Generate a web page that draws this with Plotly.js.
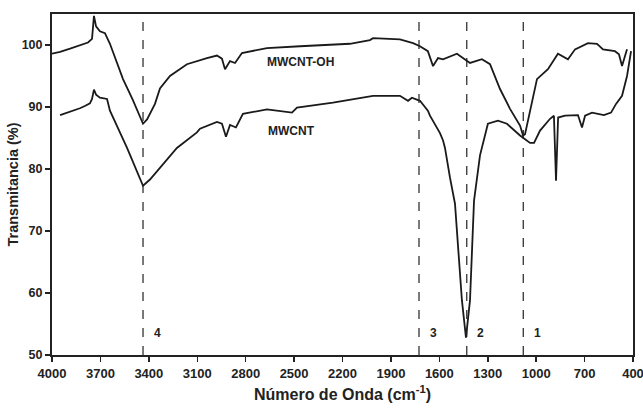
<!DOCTYPE html>
<html>
<head>
<meta charset="utf-8">
<script src="https://cdn.plot.ly/plotly-3.0.1.min.js"></script>
<style>html,body{margin:0;padding:0;background:#fff;}#chart{width:643px;height:409px;}</style>
</head>
<body>
<div id="chart"></div>
<script>
// MWCNT-OH spectrum
const ohWave = [4000,3950,3888,3827,3777,3752,3740,3727,3703,3672,3641,3560,3500,3436,3411,3362,3331,3269,3164,3040,2978,2947,2928,2897,2866,2823,2668,2463,2154,2030,2011,1844,1763,1720,1671,1639,1608,1577,1491,1410,1336,1286,1224,1162,1100,1081,1069,995,927,865,803,759,679,623,586,512,487,468,437];
const ohTrans = [98.6,98.9,99.4,99.9,100.4,101,104.7,103,102.2,101.9,100.2,94.5,91.2,87.3,88,90.5,93,95,96.9,97.9,98.3,97.8,96.1,97.4,97.1,98.7,99.5,99.8,100.2,100.8,101.1,100.9,100.3,99.8,99,96.6,97.9,97.7,98.6,97.1,97.7,96.9,92.9,89.7,87,85.4,85.6,94.5,96.1,98.6,97.7,99.3,100.3,100.2,99.3,99,98.5,96.6,99.3];
// MWCNT spectrum
const cntWave = [3950,3888,3827,3793,3765,3752,3740,3727,3703,3659,3641,3535,3436,3393,3331,3226,3102,3083,2978,2947,2922,2897,2860,2817,2668,2513,2482,2259,2011,1844,1794,1770,1720,1671,1658,1596,1577,1565,1534,1503,1460,1435,1410,1385,1348,1299,1237,1181,1100,1038,1013,976,914,890,877,864,821,741,716,697,654,580,536,505,468,437,412];
const cntTrans = [88.7,89.2,89.8,90.2,90.6,91.3,92.8,92,91.5,91.3,89.4,83.4,77.3,78.3,80.2,83.4,85.9,86.5,87.6,87.3,85.2,87.1,86.7,88.9,89.6,89.1,89.9,90.7,91.8,91.8,91,91.5,91,89.4,88.6,85.8,84.6,83.4,78.6,74.4,58.8,52.8,58.8,74.9,82.2,87.3,87.8,87.3,85.4,84.2,84.2,86.2,88.1,88.6,78.1,88.3,88.6,88.7,86.7,88.6,89.1,88.7,89.1,90.5,91.8,95,99];
// Marked bands
const bandPositions = [3436, 1726, 1430, 1080];
const bandLabels = ['4', '3', '2', '1'];
const bandLabelY = 53.5;
// Series names / labels
const seriesNames = ['MWCNT-OH', 'MWCNT'];
const seriesLabelX = [2463, 2519];
const seriesLabelY = [97.3, 86.2];
const xTicks = [4000,3700,3400,3100,2800,2500,2200,1900,1600,1300,1000,700,400];
const yTicks = [50,60,70,80,90,100];

const lineStyle = {color:'#1a1a1a', width:1.8};
const traces = [
  {x: ohWave, y: ohTrans, type:'scatter', mode:'lines', line: lineStyle, name: seriesNames[0]},
  {x: cntWave, y: cntTrans, type:'scatter', mode:'lines', line: lineStyle, name: seriesNames[1]}
];

const fontFam = 'Arial, "Liberation Sans", sans-serif';
const shapes = bandPositions.map(p => ({
  type:'line', xref:'x', yref:'paper', x0:p, x1:p, y0:0, y1:1,
  line:{color:'#222', width:1.2, dash:'dash'}
}));
const annotations = bandPositions.map((p,i) => ({
  x:p, y:bandLabelY, xref:'x', yref:'y', text:bandLabels[i], showarrow:false,
  xshift: 14, font:{family:fontFam, size:12, color:'#222', weight:'bold'}
})).concat(seriesNames.map((n,i) => ({
  x:seriesLabelX[i], y:seriesLabelY[i], xref:'x', yref:'y', text:n, showarrow:false,
  font:{family:fontFam, size:12, color:'#222', weight:'bold'}
})));

const layout = {
  width:643, height:409,
  margin:{l:52, r:10, t:14, b:54},
  paper_bgcolor:'#fff', plot_bgcolor:'#fff',
  showlegend:false,
  font:{family:fontFam, color:'#222'},
  xaxis:{
    range:[4000,400], autorange:false,
    tickvals:xTicks, ticktext:xTicks.map(String),
    ticks:'outside', ticklen:5, tickwidth:1.5, tickcolor:'#222',
    showline:true, linewidth:2, linecolor:'#222', mirror:true,
    showgrid:false, zeroline:false, ticklabeloverflow:'allow',
    tickfont:{family:fontFam, size:13, color:'#222', weight:'bold'},
    title:{text:'Número de Onda (cm<sup>-1</sup>)', standoff:9, font:{family:fontFam, size:16, color:'#222', weight:'bold'}}
  },
  yaxis:{
    range:[50,105], autorange:false,
    tickvals:yTicks,
    ticks:'outside', ticklen:5, tickwidth:1.5, tickcolor:'#222',
    showline:true, linewidth:2, linecolor:'#222', mirror:true,
    showgrid:false, zeroline:false,
    tickfont:{family:fontFam, size:12.5, color:'#222', weight:'bold'},
    title:{text:'Transmitancia (%)', standoff:0, font:{family:fontFam, size:14.5, color:'#222', weight:'bold'}}
  },
  shapes: shapes,
  annotations: annotations
};
Plotly.newPlot('chart', traces, layout, {staticPlot:true, displayModeBar:false});
</script>
</body>
</html>
